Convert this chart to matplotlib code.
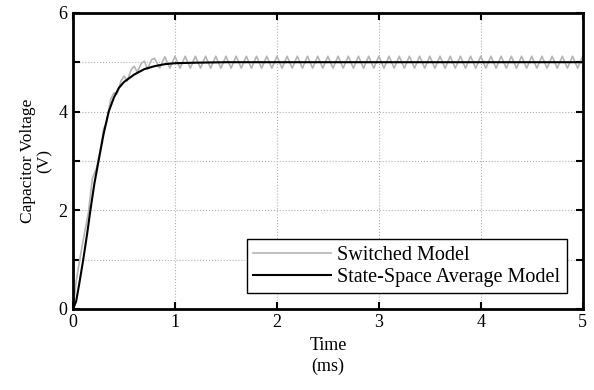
import matplotlib
matplotlib.use("Agg")
import matplotlib.pyplot as plt

plt.rcParams['font.family'] = ['Liberation Serif', 'DejaVu Serif']
plt.rcParams['mathtext.fontset'] = 'stix'

# state-space average model (ms, V)
t_avg = [0, 0.03, 0.06, 0.10, 0.14, 0.17, 0.21, 0.25, 0.30, 0.35, 0.40, 0.45,
         0.50, 0.60, 0.70, 0.80, 0.90, 1.00, 1.20, 1.50, 2.00, 5.00]
v_avg = [0, 0.15, 0.50, 1.00, 1.55, 2.00, 2.55, 3.00, 3.55, 4.00, 4.28, 4.48,
         4.60, 4.75, 4.86, 4.92, 4.96, 4.98, 4.99, 5.00, 5.00, 5.00]

# switched model: transient part read point by point
t_sw = [0.00, 0.03, 0.07, 0.10, 0.15, 0.19, 0.23, 0.27, 0.30, 0.33, 0.37, 0.40,
        0.43, 0.47, 0.50, 0.53, 0.57, 0.60, 0.63, 0.67, 0.70, 0.73, 0.77, 0.80]
v_sw = [0.00, 0.55, 1.05, 1.40, 1.95, 2.65, 2.85, 3.25, 3.65, 3.80, 4.25, 4.38,
        4.35, 4.62, 4.72, 4.62, 4.85, 4.92, 4.80, 4.98, 5.02, 4.86, 5.05, 5.08]

# switched model: steady ripple, troughs and peaks every 0.05 ms
t_ripple = [0.85, 0.90, 0.95, 1.00, 1.05, 1.10, 1.15, 1.20, 1.25, 1.30, 1.35, 1.40,
            1.45, 1.50, 1.55, 1.60, 1.65, 1.70, 1.75, 1.80, 1.85, 1.90, 1.95, 2.00,
            2.05, 2.10, 2.15, 2.20, 2.25, 2.30, 2.35, 2.40, 2.45, 2.50, 2.55, 2.60,
            2.65, 2.70, 2.75, 2.80, 2.85, 2.90, 2.95, 3.00, 3.05, 3.10, 3.15, 3.20,
            3.25, 3.30, 3.35, 3.40, 3.45, 3.50, 3.55, 3.60, 3.65, 3.70, 3.75, 3.80,
            3.85, 3.90, 3.95, 4.00, 4.05, 4.10, 4.15, 4.20, 4.25, 4.30, 4.35, 4.40,
            4.45, 4.50, 4.55, 4.60, 4.65, 4.70, 4.75, 4.80, 4.85, 4.90, 4.95, 5.00]
v_ripple = [4.88, 5.11, 4.88, 5.12, 4.88, 5.12, 4.88, 5.12, 4.88, 5.12, 4.88, 5.12,
            4.88, 5.12, 4.88, 5.12, 4.88, 5.12, 4.88, 5.12, 4.88, 5.12, 4.88, 5.12,
            4.88, 5.12, 4.88, 5.12, 4.88, 5.12, 4.88, 5.12, 4.88, 5.12, 4.88, 5.12,
            4.88, 5.12, 4.88, 5.12, 4.88, 5.12, 4.88, 5.12, 4.88, 5.12, 4.88, 5.12,
            4.88, 5.12, 4.88, 5.12, 4.88, 5.12, 4.88, 5.12, 4.88, 5.12, 4.88, 5.12,
            4.88, 5.12, 4.88, 5.12, 4.88, 5.12, 4.88, 5.12, 4.88, 5.12, 4.88, 5.12,
            4.88, 5.12, 4.88, 5.12, 4.88, 5.12, 4.88, 5.12, 4.88, 5.12, 4.88, 5.12]

x_ticks = [0, 1, 2, 3, 4, 5]
y_ticks = [0, 1, 2, 3, 4, 5, 6]
y_labels = ['0', '', '2', '', '4', '', '6']

fig = plt.figure(figsize=(5.94, 3.9), dpi=100)
ax = fig.add_axes([0.123, 0.208, 0.858, 0.759])

ax.plot(t_sw + t_ripple, v_sw + v_ripple, color='#b4b4b4', lw=1.2,
        label='Switched Model')
ax.plot(t_avg, v_avg, color='black', lw=1.5, label='State-Space Average Model')

ax.set_xlim(0, 5)
ax.set_ylim(0, 6)
ax.set_xticks(x_ticks)
ax.set_yticks(y_ticks)
ax.set_yticklabels(y_labels)
ax.tick_params(direction='in', top=True, right=True, length=5, width=1.5,
               labelsize=13, pad=4)
for s in ax.spines.values():
    s.set_linewidth(2)
ax.grid(True, color='#b0b0b0', linestyle=':', linewidth=0.8)

ax.set_xlabel('Time\n(ms)', fontsize=13, linespacing=1.3)
ax.set_ylabel('Capacitor Voltage\n(V)', fontsize=12.5, linespacing=1.1)

leg = ax.legend(loc='lower right', fontsize=14.5, handlelength=3.9,
                fancybox=False, framealpha=1, edgecolor='black',
                borderaxespad=0.8, borderpad=0.3, labelspacing=0.15,
                handletextpad=0.3)
leg.get_frame().set_linewidth(1.0)

fig.savefig('out.png', dpi=100)
